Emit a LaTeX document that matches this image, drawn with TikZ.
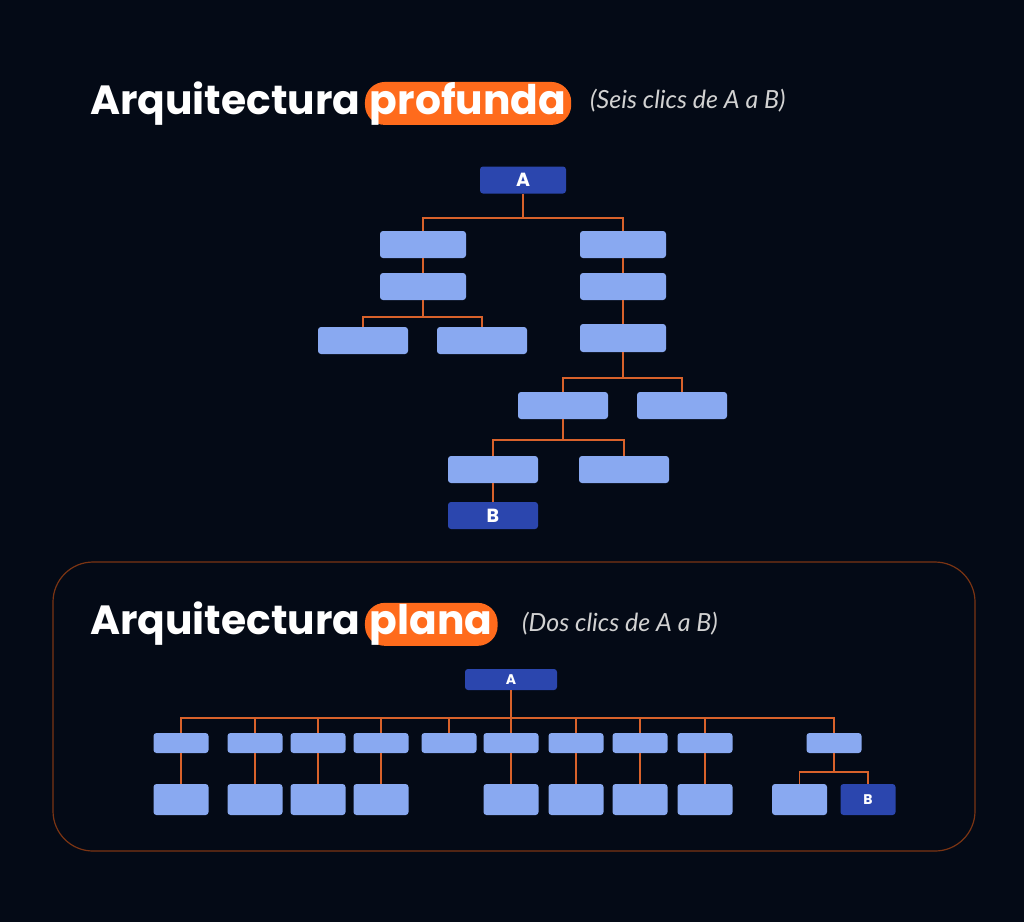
\documentclass[tikz,border=0pt]{standalone}
\usepackage{fontspec}
\usetikzlibrary{positioning}
\newfontfamily\titlefont{Poppins}
\newfontfamily\notefont{Lato}
\definecolor{bgcol}{HTML}{040A16}
\definecolor{wirecol}{HTML}{D9622B}
\definecolor{pillcol}{HTML}{FF6B1C}
\definecolor{darkbox}{HTML}{2B46AE}
\definecolor{lightbox}{HTML}{89A9F1}
\definecolor{framecol}{HTML}{7B3413}
\definecolor{notecol}{HTML}{D2D2D2}

\begin{document}
\begin{tikzpicture}[x=1pt,y=-1pt,
  box/.style={rectangle,rounded corners=3pt,fill=lightbox,inner sep=0pt,
  minimum width=86pt,minimum height=27pt},
  wide box/.style={box,minimum width=90pt},
  end box/.style={box,fill=darkbox,text=white,
  font=\titlefont\bfseries\fontsize{19}{19}\selectfont},
  small box/.style={box,minimum width=55pt,minimum height=20pt},
  tall box/.style={box,minimum width=55pt,minimum height=31pt},
  wire/.style={draw=wirecol,line width=1.7pt},
  title/.style={text=white,inner sep=0pt,
  font=\titlefont\bfseries\fontsize{40.8}{40.8}\selectfont},
  pill/.style={title,fill=pillcol,rounded corners=20pt,
  inner xsep=5pt,minimum height=43pt},
  note/.style={text=notecol,inner sep=0pt,
  font=\notefont\itshape\fontsize{25}{25}\selectfont}]

  \useasboundingbox[fill=bgcol] (0,0) rectangle (1024,922);

  % Deep architecture
  \node[title,anchor=base west] (deep) at (90,114) {Arquitectura};
  \node[pill,anchor=base west] (profunda) at ([xshift=4pt]deep.base east) {profunda};
  \node[note,anchor=west] (deepnote) at (590,101) {(Seis clics de A a B)};

  \node[end box] (A) at (523,180) {A};
  \node[box] (l1) at (423,244.5) {};
  \node[box] (r1) at (623,244.5) {};
  \node[box] (l2) at (423,286.5) {};
  \node[box] (r2) at (623,286.5) {};
  \node[wide box] (l3a) at (363,340.5) {};
  \node[wide box] (l3b) at (482,340.5) {};
  \node[box,minimum height=28pt] (r3) at (623,338) {};
  \node[wide box] (r4a) at (563,405.5) {};
  \node[wide box] (r4b) at (682,405.5) {};
  \node[wide box] (r5a) at (493,469.5) {};
  \node[wide box] (r5b) at (624,469.5) {};
  \node[end box,minimum width=90pt] (B) at (493,515.5) {B};

  \path[wire]
    (A.south) -- ++(0,24) coordinate (abar) -| (l1.north)
    (abar) -| (r1.north)
    (l1) -- (l2)
    (r1) -- (r2)
    (r2) -- (r3)
    (l2.south) -- ++(0,17) coordinate (lbar) -| (l3a.north)
    (lbar) -| (l3b.north)
    (r3.south) -- ++(0,26) coordinate (rbar) -| (r4a.north)
    (rbar) -| (r4b.north)
    (r4a.south) -- ++(0,21) coordinate (sbar) -| (r5a.north)
    (sbar) -| (r5b.north)
    (r5a) -- (B);

  % Flat architecture
  \draw[framecol,line width=1.2pt,rounded corners=40pt] (53,562) rectangle (975,851);

  \node[title,anchor=base west] (flat) at (90,634) {Arquitectura};
  \node[pill,anchor=base west] (plana) at ([xshift=4pt]flat.base east) {plana};
  \node[note,anchor=west] (flatnote) at (522,624) {(Dos clics de A a B)};

  \node[end box,minimum width=92pt,minimum height=21pt,
    font=\titlefont\bfseries\fontsize{14}{14}\selectfont] (A2) at (511,679.5) {A};

  \node[small box] (t1) at (181,743) {};
  \node[small box] (t2) at (255,743) {};
  \node[small box] (t3) at (318,743) {};
  \node[small box] (t4) at (381,743) {};
  \node[small box] (t5) at (449,743) {};
  \node[small box] (t6) at (511,743) {};
  \node[small box] (t7) at (576,743) {};
  \node[small box] (t8) at (640,743) {};
  \node[small box] (t9) at (705,743) {};
  \node[small box] (t10) at (834,743) {};

  \node[tall box] (b1) at (181,799.5) {};
  \node[tall box] (b2) at (255,799.5) {};
  \node[tall box] (b3) at (318,799.5) {};
  \node[tall box] (b4) at (381,799.5) {};
  \node[tall box] (b6) at (511,799.5) {};
  \node[tall box] (b7) at (576,799.5) {};
  \node[tall box] (b8) at (640,799.5) {};
  \node[tall box] (b9) at (705,799.5) {};
  \node[tall box] (b10) at (799.5,799.5) {};
  \node[end box,minimum width=55pt,minimum height=31pt,
    font=\titlefont\bfseries\fontsize{14}{14}\selectfont] (B2) at (868,799.5) {B};

  \path[wire]
    (A2.south) -- ++(0,28) coordinate (pbar)
    (pbar) -| (t1.north) (pbar) -| (t2.north) (pbar) -| (t3.north)
    (pbar) -| (t4.north) (pbar) -| (t5.north) (pbar) -- (t6.north)
    (pbar) -| (t7.north) (pbar) -| (t8.north) (pbar) -| (t9.north)
    (pbar) -| (t10.north)
    (t1) -- (b1) (t2) -- (b2) (t3) -- (b3) (t4) -- (b4)
    (t6) -- (b6) (t7) -- (b7) (t8) -- (b8) (t9) -- (b9)
    (t10.south) -- ++(0,19) coordinate (qbar) -| (b10.north)
    (qbar) -| (B2.north);
\end{tikzpicture}
\end{document}
